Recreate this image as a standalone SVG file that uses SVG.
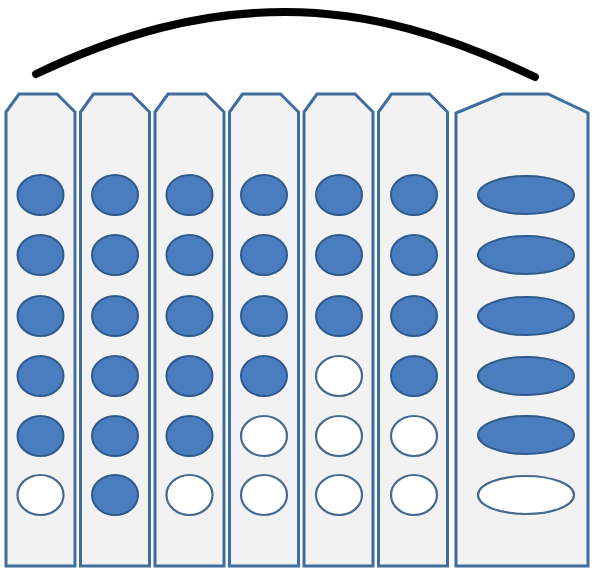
<svg xmlns="http://www.w3.org/2000/svg" width="593" height="568" viewBox="0 0 593 568">
<style>
.col{fill:#f2f2f2;stroke:#3f6d9e;stroke-width:3;stroke-linejoin:miter}
.f{fill:#4a7dbf;stroke:#2e5b8c;stroke-width:2}
.w{fill:#ffffff;stroke:#46698f;stroke-width:2.2}
.arc{fill:none;stroke:#000;stroke-width:8;stroke-linecap:round}
</style>
<rect width="593" height="568" fill="#ffffff"/>
<g id="arc"><path class="arc" d="M36,74 C120,34 200,12 285,12 C370,12 450,36 535,77"/></g>
<g id="col1"><path class="col" d="M6,566 V112 L19,94 H57 L75,112 V566 Z"/>
<ellipse class="f" cx="40.5" cy="195" rx="23" ry="20"/><ellipse class="f" cx="40.5" cy="255" rx="23" ry="20"/><ellipse class="f" cx="40.5" cy="316" rx="23" ry="20"/><ellipse class="f" cx="40.5" cy="376" rx="23" ry="20"/><ellipse class="f" cx="40.5" cy="436" rx="23" ry="20"/><ellipse class="w" cx="40.5" cy="495" rx="23" ry="20"/></g>
<g id="col2"><path class="col" d="M80.5,566 V112 L93.5,94 H131.5 L149.5,112 V566 Z"/>
<ellipse class="f" cx="115" cy="195" rx="23" ry="20"/><ellipse class="f" cx="115" cy="255" rx="23" ry="20"/><ellipse class="f" cx="115" cy="316" rx="23" ry="20"/><ellipse class="f" cx="115" cy="376" rx="23" ry="20"/><ellipse class="f" cx="115" cy="436" rx="23" ry="20"/><ellipse class="f" cx="115" cy="495" rx="23" ry="20"/></g>
<g id="col3"><path class="col" d="M155,566 V112 L168,94 H206 L224,112 V566 Z"/>
<ellipse class="f" cx="189.5" cy="195" rx="23" ry="20"/><ellipse class="f" cx="189.5" cy="255" rx="23" ry="20"/><ellipse class="f" cx="189.5" cy="316" rx="23" ry="20"/><ellipse class="f" cx="189.5" cy="376" rx="23" ry="20"/><ellipse class="f" cx="189.5" cy="436" rx="23" ry="20"/><ellipse class="w" cx="189.5" cy="495" rx="23" ry="20"/></g>
<g id="col4"><path class="col" d="M229.5,566 V112 L242.5,94 H280.5 L298.5,112 V566 Z"/>
<ellipse class="f" cx="264" cy="195" rx="23" ry="20"/><ellipse class="f" cx="264" cy="255" rx="23" ry="20"/><ellipse class="f" cx="264" cy="316" rx="23" ry="20"/><ellipse class="f" cx="264" cy="376" rx="23" ry="20"/><ellipse class="w" cx="264" cy="436" rx="23" ry="20"/><ellipse class="w" cx="264" cy="495" rx="23" ry="20"/></g>
<g id="col5"><path class="col" d="M304,566 V112 L317,94 H355 L373,112 V566 Z"/>
<ellipse class="f" cx="339" cy="195" rx="23" ry="20"/><ellipse class="f" cx="339" cy="255" rx="23" ry="20"/><ellipse class="f" cx="339" cy="316" rx="23" ry="20"/><ellipse class="w" cx="339" cy="376" rx="23" ry="20"/><ellipse class="w" cx="339" cy="436" rx="23" ry="20"/><ellipse class="w" cx="339" cy="495" rx="23" ry="20"/></g>
<g id="col6"><path class="col" d="M378.5,566 V112 L391.5,94 H429.5 L447.5,112 V566 Z"/>
<ellipse class="f" cx="414" cy="195" rx="23" ry="20"/><ellipse class="f" cx="414" cy="255" rx="23" ry="20"/><ellipse class="f" cx="414" cy="316" rx="23" ry="20"/><ellipse class="f" cx="414" cy="376" rx="23" ry="20"/><ellipse class="w" cx="414" cy="436" rx="23" ry="20"/><ellipse class="w" cx="414" cy="495" rx="23" ry="20"/></g>
<g id="col7"><path class="col" d="M456,566 V113 L502,94 H548 L588,113 V566 Z"/>
<ellipse class="f" cx="526" cy="195" rx="48" ry="19"/><ellipse class="f" cx="526" cy="255" rx="48" ry="19"/><ellipse class="f" cx="526" cy="316" rx="48" ry="19"/><ellipse class="f" cx="526" cy="376" rx="48" ry="19"/><ellipse class="f" cx="526" cy="435" rx="48" ry="19"/><ellipse class="w" cx="526" cy="495" rx="48" ry="19"/></g>
</svg>
